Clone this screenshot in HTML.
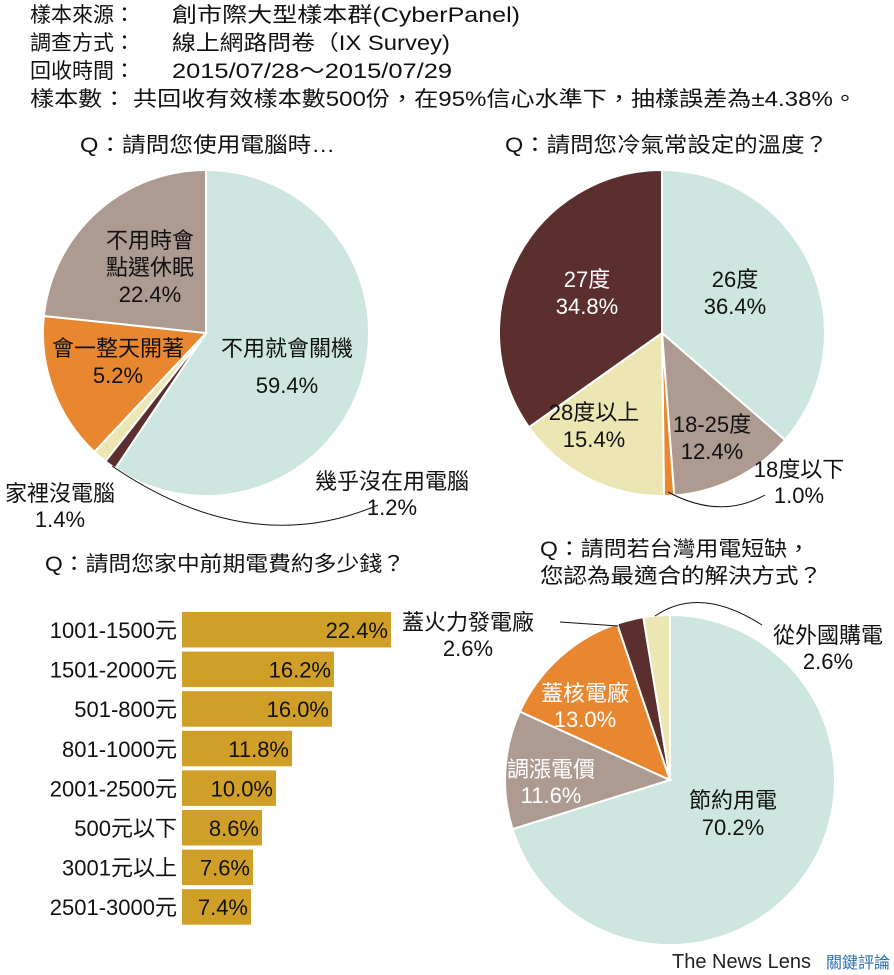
<!DOCTYPE html>
<html><head><meta charset="utf-8"><style>
html,body{margin:0;padding:0;background:#fff;}
svg{display:block;font-family:"Liberation Sans","Noto Sans CJK TC",sans-serif;}
</style></head><body>
<svg id="s" width="894" height="975" viewBox="0 0 894 975">
<g font-size="21" fill="#111">
<text x="30" y="22">樣本來源：</text><text x="172" y="22" textLength="348" lengthAdjust="spacingAndGlyphs">創市際大型樣本群(CyberPanel)</text>
<text x="30" y="50">調查方式：</text><text x="172" y="50" textLength="278" lengthAdjust="spacingAndGlyphs">線上網路問卷（IX Survey)</text>
<text x="30" y="78">回收時間：</text><text x="172" y="78" textLength="280" lengthAdjust="spacingAndGlyphs">2015/07/28～2015/07/29</text>
<text x="30" y="106" textLength="827" lengthAdjust="spacingAndGlyphs">樣本數： 共回收有效樣本數500份，在95%信心水準下，抽樣誤差為±4.38%。</text>
<text x="80" y="152" textLength="255" lengthAdjust="spacingAndGlyphs">Q：請問您使用電腦時…</text>
<text x="505" y="152" textLength="323" lengthAdjust="spacingAndGlyphs">Q：請問您冷氣常設定的溫度？</text>
<text x="45" y="571" textLength="360" lengthAdjust="spacingAndGlyphs">Q：請問您家中前期電費約多少錢？</text>
<text x="540" y="556" textLength="270" lengthAdjust="spacingAndGlyphs">Q：請問若台灣用電短缺，</text>
<text x="540" y="583" textLength="282" lengthAdjust="spacingAndGlyphs">您認為最適合的解決方式？</text>
</g>
<g id="pies"></g>
<g font-size="22" fill="#111" text-anchor="middle">
<text x="150" y="248">不用時會</text><text x="150" y="275">點選休眠</text><text x="150" y="302">22.4%</text>
<text x="118" y="356">會一整天開著</text><text x="118" y="383">5.2%</text>
<text x="287" y="356">不用就會關機</text><text x="287" y="393">59.4%</text>
<text x="60" y="501">家裡沒電腦</text><text x="60" y="527">1.4%</text>
<text x="392" y="489">幾乎沒在用電腦</text><text x="392" y="515">1.2%</text>
<text x="587" y="287" fill="#fff">27度</text><text x="587" y="314" fill="#fff">34.8%</text>
<text x="735" y="287">26度</text><text x="735" y="314">36.4%</text>
<text x="594" y="420">28度以上</text><text x="594" y="447">15.4%</text>
<text x="712" y="432">18-25度</text><text x="712" y="459">12.4%</text>
<text x="799" y="477">18度以下</text><text x="799" y="503">1.0%</text>
<text x="468" y="630">蓋火力發電廠</text><text x="468" y="656">2.6%</text>
<text x="828" y="643">從外國購電</text><text x="828" y="669">2.6%</text>
<text x="585" y="701" fill="#fff">蓋核電廠</text><text x="585" y="727" fill="#fff">13.0%</text>
<text x="551" y="777" fill="#fff">調漲電價</text><text x="551" y="803" fill="#fff">11.6%</text>
<text x="733" y="808">節約用電</text><text x="733" y="835">70.2%</text>
</g>
<g fill="none" stroke="#111" stroke-width="1">
<path d="M112,466 Q250,560 378,505"/>
<path d="M668,492 Q720,520 765,495"/>
<path d="M560,622 L618,626"/>
<path d="M655,616 Q700,585 762,625"/>
</g>
<g id="bars"></g>
<text x="672" y="968" font-size="20" fill="#222">The News Lens</text>
<text x="826" y="968" font-size="16" fill="#2a6fb5">關鍵評論</text>
</svg>
<script>
var ns="http://www.w3.org/2000/svg";
function pie(cx,cy,r,sl){var g=document.getElementById("pies");var a=0;
sl.forEach(function(s){var a0=a*Math.PI/180,a1=(a+s[0])*Math.PI/180;a+=s[0];
var x0=cx+r*Math.sin(a0),y0=cy-r*Math.cos(a0),x1=cx+r*Math.sin(a1),y1=cy-r*Math.cos(a1);
var p=document.createElementNS(ns,"path");
p.setAttribute("d","M"+cx+","+cy+"L"+x0+","+y0+"A"+r+","+r+" 0 "+(s[0]>180?1:0)+" 1 "+x1+","+y1+"Z");
p.setAttribute("fill",s[1]);p.setAttribute("stroke","#fff");p.setAttribute("stroke-width","2");g.appendChild(p);});}
var B="#cde6e0",G="#ad9a91",O="#e8872f",C="#ece6b2",D="#5a2f2e";
pie(206,333,163,[[213.8,B],[4.3,D],[5.1,C],[52.8,O],[84,G]]);
pie(662,333,163,[[131,B],[44.7,G],[3.6,O],[55.4,C],[125.3,D]]);
pie(670,780,165,[[252.7,B],[41.8,G],[46.8,O],[9.4,D],[9.3,C]]);
var bars=[["1001-1500元","22.4%",391],["1501-2000元","16.2%",334],["501-800元","16.0%",332],["801-1000元","11.8%",292],["2001-2500元","10.0%",276],["500元以下","8.6%",262],["3001元以上","7.6%",253],["2501-3000元","7.4%",251]];
var bg=document.getElementById("bars");
bars.forEach(function(b,i){var y=612+i*39.6;
var r=document.createElementNS(ns,"rect");r.setAttribute("x",182);r.setAttribute("y",y);r.setAttribute("width",b[2]-182);r.setAttribute("height",35.5);r.setAttribute("fill","#d09f27");bg.appendChild(r);
var t=document.createElementNS(ns,"text");t.setAttribute("x",177);t.setAttribute("y",y+26);t.setAttribute("text-anchor","end");t.setAttribute("font-size","22");t.setAttribute("fill","#111");t.textContent=b[0];bg.appendChild(t);
var v=document.createElementNS(ns,"text");v.setAttribute("x",b[2]-3);v.setAttribute("y",y+26);v.setAttribute("text-anchor","end");v.setAttribute("font-size","22");v.setAttribute("fill","#111");v.textContent=b[1];bg.appendChild(v);});
</script>
</body></html>
